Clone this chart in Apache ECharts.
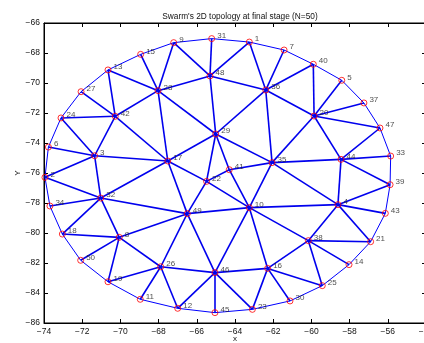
<!DOCTYPE html>
<html>
<head>
<meta charset="utf-8">
<script src="https://cdn.jsdelivr.net/npm/echarts@6/dist/echarts.min.js"></script>
<style>
  html, body { margin: 0; padding: 0; background: #fff; }
  #chart { width: 424px; height: 343px; }
</style>
</head>
<body>
<div id="chart"></div>
<script>
    'use strict';

    // node ids and final positions
    const nodeIds = [1, 2, 3, 4, 5, 6, 7, 8, 9, 10,
                     11, 12, 13, 14, 15, 16, 17, 18, 19, 20,
                     21, 22, 23, 24, 25, 26, 27, 28, 29, 30,
                     31, 32, 33, 34, 35, 36, 37, 38, 39, 40,
                     41, 42, 43, 44, 45, 46, 47, 48, 49, 50];
    const nodeX = [-63.25, -73.95, -71.35, -58.61, -58.41, -73.77, -61.43, -70.06, -67.21, -63.25,
                   -68.96, -67.00, -70.65, -58.03, -68.94, -62.29, -67.52, -73.04, -70.65, -59.86,
                   -56.90, -65.49, -63.09, -73.11, -59.43, -67.89, -72.06, -68.03, -65.01, -61.12,
                   -65.22, -71.03, -55.85, -73.69, -62.06, -62.39, -57.25, -60.16, -55.88, -59.90,
                   -64.30, -70.27, -56.13, -58.45, -65.05, -65.05, -56.41, -65.31, -66.50, -72.08];
    const nodeY = [-67.27, -76.29, -74.85, -78.11, -69.82, -74.27, -67.80, -80.29, -67.31, -78.31,
                   -84.42, -85.02, -69.13, -82.11, -68.09, -82.36, -75.20, -80.07, -83.25, -72.20,
                   -80.58, -76.56, -85.09, -72.33, -83.51, -82.25, -70.58, -70.51, -73.40, -84.53,
                   -67.04, -77.67, -74.87, -78.20, -75.31, -70.47, -71.33, -80.51, -76.78, -68.75,
                   -75.78, -72.22, -78.69, -75.09, -85.31, -82.64, -73.00, -69.53, -78.71, -81.82];

    // outer ring of the topology
    const hullEdges = [[31, 1], [1, 7], [7, 40], [40, 5], [5, 37], [37, 47], [47, 33], [33, 39],
                       [39, 43], [43, 21], [21, 14], [14, 25], [25, 30], [30, 23], [23, 45], [45, 12],
                       [12, 11], [11, 19], [19, 50], [50, 18], [18, 34], [34, 2], [2, 6], [6, 24],
                       [24, 27], [27, 13], [13, 15], [15, 9], [9, 31]];

    // inner links
    const innerEdges = [[9, 28], [15, 28], [13, 28], [13, 42], [27, 42], [24, 42], [28, 42], [9, 48],
                        [28, 48], [31, 48], [28, 29], [28, 17], [42, 17], [42, 3], [24, 3], [6, 3],
                        [2, 3], [3, 17], [3, 32], [2, 32], [34, 32], [18, 32], [32, 8], [32, 49],
                        [32, 17], [17, 49], [17, 22], [17, 29], [48, 1], [48, 36], [48, 29], [1, 36],
                        [7, 36], [36, 40], [40, 20], [5, 20], [37, 20], [36, 20], [36, 29], [36, 35],
                        [20, 35], [20, 47], [20, 44], [29, 41], [29, 22], [29, 35], [41, 35], [41, 22],
                        [41, 10], [22, 10], [22, 49], [35, 10], [35, 4], [35, 44], [44, 4], [44, 33],
                        [44, 39], [44, 47], [4, 39], [4, 43], [4, 10], [4, 21], [4, 38], [10, 49],
                        [10, 46], [10, 16], [10, 38], [49, 46], [49, 26], [49, 8], [8, 18], [8, 50],
                        [8, 19], [8, 26], [26, 19], [26, 11], [26, 12], [26, 46], [46, 45], [46, 23],
                        [46, 16], [46, 12], [16, 23], [16, 30], [16, 25], [16, 38], [38, 25], [38, 21],
                        [38, 14]];

    const titleText = "Swarm's 2D topology at final stage (N=50)";

    function pos(id) {
        const i = nodeIds.indexOf(id);
        return [nodeX[i], nodeY[i]];
    }

    function toLines(edges) {
        return edges.map(function(e) {
            return { coords: [pos(e[0]), pos(e[1])] };
        });
    }

    const minus = function(v) { return String(v).replace('-', '\u2212'); };
    const font = 'Liberation Sans, Arial, Helvetica, sans-serif';

    function axis(extra) {
        const base = {
            interval: 2,
            nameMoveOverlap: false,
            axisLine: { onZero: false, lineStyle: { color: '#000', width: 1 } },
            axisTick: { inside: true, length: 4, lineStyle: { color: '#000' } },
            splitLine: { show: false },
            axisLabel: { color: '#111', fontSize: 8.5, fontFamily: font, formatter: minus, margin: 4 }
        };
        return Object.assign(base, extra);
    }

    const chart = echarts.init(document.getElementById('chart'), null, { renderer: 'canvas' });

    chart.setOption({
        backgroundColor: '#fff',
        animation: false,
        title: {
            text: titleText,
            left: 235, top: 8, textAlign: 'center',
            textStyle: { fontSize: 8.3, fontWeight: 'normal', color: '#111', fontFamily: font }
        },
        grid: {
            left: 44, top: 23, width: 382, height: 300,
            outerBoundsMode: 'none', containLabel: false,
            show: true, borderColor: '#000', borderWidth: 1
        },
        xAxis: [
            axis({ type: 'value', position: 'bottom', min: -74, max: -54,
                   name: 'x', nameLocation: 'middle', nameGap: 12,
                   nameTextStyle: { fontSize: 8, color: '#111', fontFamily: font } }),
            axis({ type: 'value', position: 'top', min: -74, max: -54,
                   axisLabel: { show: false } })
        ],
        yAxis: [
            axis({ type: 'value', position: 'left', min: -86, max: -66,
                   name: 'Y', nameLocation: 'middle', nameGap: 22,
                   nameTextStyle: { fontSize: 8, color: '#111', fontFamily: font } }),
            axis({ type: 'value', position: 'right', min: -86, max: -66,
                   axisLabel: { show: false } })
        ],
        series: [
            {
                type: 'lines', coordinateSystem: 'cartesian2d', polyline: false,
                lineStyle: { color: '#0000ff', width: 1, opacity: 1 },
                data: toLines(hullEdges), silent: true
            },
            {
                type: 'lines', coordinateSystem: 'cartesian2d', polyline: false,
                lineStyle: { color: '#0000ee', width: 1.6, opacity: 1 },
                data: toLines(innerEdges), silent: true
            },
            {
                type: 'scatter',
                symbol: 'circle', symbolSize: 6,
                itemStyle: { color: 'rgba(0,0,0,0)', borderColor: '#ff0000', borderWidth: 1 },
                label: {
                    show: true, position: 'right', distance: 2, offset: [0, -3],
                    fontSize: 8, color: '#222', fontFamily: font,
                    formatter: function(p) { return String(p.data[2]); }
                },
                data: nodeIds.map(function(id, i) { return [nodeX[i], nodeY[i], id]; }),
                z: 5
            }
        ]
    });
</script>
</body>
</html>
